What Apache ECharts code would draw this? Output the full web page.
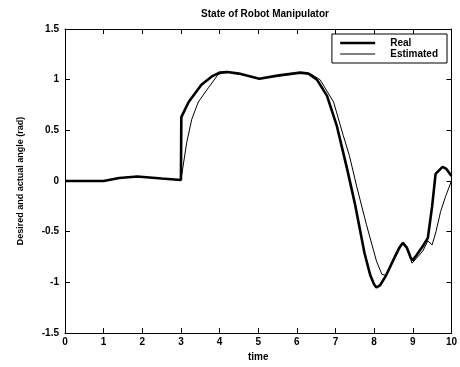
<!DOCTYPE html>
<html>
<head>
<meta charset="utf-8">
<script src="https://cdn.jsdelivr.net/npm/echarts@6/dist/echarts.min.js"></script>
<style>html,body{margin:0;padding:0;background:#fff}#c{width:460px;height:367px}</style>
</head>
<body>
<div id="c"></div>
<script>
var xTicks = [0,1,2,3,4,5,6,7,8,9,10];
var yTicks = [-1.5,-1,-0.5,0,0.5,1,1.5];
var real = [[0,0],[1,0],[1.4,0.03],[1.87,0.045],[2.5,0.025],[3.0,0.01],[3.01,0.63],[3.2,0.78],[3.53,0.95],[3.79,1.03],[4.0,1.07],[4.2,1.075],[4.5,1.06],[5.03,1.01],[5.5,1.04],[6.09,1.07],[6.3,1.06],[6.52,1.0],[6.78,0.84],[7.03,0.55],[7.3,0.12],[7.5,-0.22],[7.75,-0.71],[7.9,-0.93],[8.0,-1.02],[8.06,-1.05],[8.15,-1.03],[8.31,-0.93],[8.52,-0.76],[8.65,-0.66],[8.74,-0.61],[8.85,-0.66],[8.95,-0.76],[9.0,-0.78],[9.1,-0.73],[9.28,-0.63],[9.39,-0.56],[9.5,-0.25],[9.59,0.07],[9.77,0.14],[9.87,0.12],[10,0.05]];
var estimated = [[0,0],[1,0],[1.4,0.03],[1.87,0.045],[2.5,0.025],[3.0,0.01],[3.15,0.38],[3.28,0.61],[3.45,0.78],[3.71,0.92],[3.96,1.05],[4.1,1.07],[4.2,1.075],[4.5,1.06],[5.03,1.01],[5.5,1.04],[6.09,1.07],[6.35,1.06],[6.6,1.0],[6.95,0.78],[7.2,0.45],[7.36,0.25],[7.54,-0.04],[7.8,-0.43],[8.06,-0.79],[8.2,-0.92],[8.3,-0.93],[8.4,-0.86],[8.52,-0.76],[8.65,-0.65],[8.77,-0.61],[8.88,-0.7],[8.98,-0.81],[9.1,-0.76],[9.26,-0.69],[9.39,-0.59],[9.5,-0.63],[9.6,-0.5],[9.72,-0.3],[9.85,-0.15],[10,0.0]];

var font = 'Liberation Sans, Arial, sans-serif';
function fmtY(v){ return String(v); }
var chart = echarts.init(document.getElementById('c'), null, {renderer:'canvas'});
var axisLine = {show:true, onZero:false, lineStyle:{color:'#000', width:1}};
var tick = {show:true, inside:true, length:5, lineStyle:{color:'#000', width:1}};
chart.setOption({
  animation:false,
  backgroundColor:'#fff',
  title:{text:'State of Robot Manipulator', left:260, textAlign:'center', top:4,
    textStyle:{fontFamily:font, fontSize:10, fontWeight:'bold', color:'#000'}},
  legend:{right:13, top:34, orient:'vertical', itemWidth:35, itemHeight:12, itemGap:1,
    padding:[4,9,4,7], borderColor:'#000', borderWidth:1, backgroundColor:'#fff',
    itemStyle:{opacity:0},
    textStyle:{fontFamily:font, fontSize:10, fontWeight:'bold', color:'#000', padding:[0,0,0,10]},
    data:[{name:'Real', lineStyle:{width:2.6, color:'#000'}},{name:'Estimated', lineStyle:{width:1, color:'#000'}}]},
  grid:{left:65, right:4, top:29, bottom:31},
  xAxis:[{type:'value', min:0, max:10, interval:1, position:'bottom',
    name:'time', nameLocation:'middle', nameGap:16,
    nameTextStyle:{fontFamily:font, fontSize:10, fontWeight:'bold', color:'#000'},
    axisLine:axisLine, axisTick:tick, splitLine:{show:false},
    axisLabel:{fontFamily:font, fontSize:10, fontWeight:'bold', color:'#000', margin:4}},
    {type:'value', min:0, max:10, interval:1, position:'top',
    axisLine:axisLine, axisTick:tick, splitLine:{show:false}, axisLabel:{show:false}}],
  yAxis:[{type:'value', min:-1.5, max:1.5, interval:0.5, position:'left',
    name:'Desired and actual angle (rad)', nameLocation:'middle', nameGap:40, nameRotate:90,
    nameTextStyle:{fontFamily:font, fontSize:9, fontWeight:'bold', color:'#000'},
    axisLine:axisLine, axisTick:tick, splitLine:{show:false},
    axisLabel:{fontFamily:font, fontSize:10, fontWeight:'bold', color:'#000', margin:6, formatter:fmtY}},
    {type:'value', min:-1.5, max:1.5, interval:0.5, position:'right',
    axisLine:axisLine, axisTick:tick, splitLine:{show:false}, axisLabel:{show:false}}],
  series:[
    {name:'Real', type:'line', data:real, symbol:'none', xAxisIndex:0, yAxisIndex:0,
      lineStyle:{color:'#000', width:2.6}, itemStyle:{color:'#000'}, z:3},
    {name:'Estimated', type:'line', data:estimated, symbol:'none', xAxisIndex:0, yAxisIndex:0,
      lineStyle:{color:'#000', width:1}, itemStyle:{color:'#000'}, z:4}
  ]
});
</script>
</body>
</html>
